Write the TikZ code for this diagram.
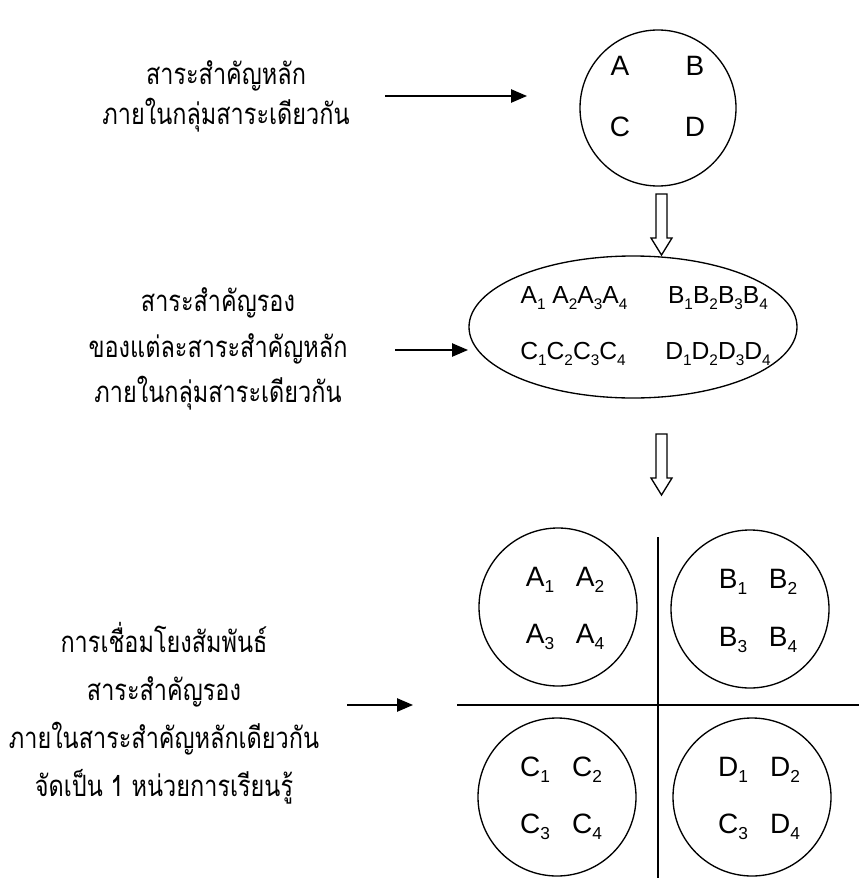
\documentclass[tikz,border=0pt]{standalone}
\usepackage{fontspec}
\setmainfont{Liberation Sans}
\newfontfamily\thaifont[Script=Thai,FakeStretch=0.8]{Loma}
\usetikzlibrary{arrows.meta,shapes.geometric}
\newcommand{\lowidx}[2][13]{\raisebox{-4.5pt}{\fontsize{#1}{#1}\selectfont #2}}
\tikzset{
	thaitext/.style={align=center,inner sep=0pt,font=\thaifont\fontsize{22}{34}\selectfont},
	letter/.style={inner sep=0pt,font=\fontsize{21}{21}\selectfont},
	ovalletter/.style={inner sep=0pt,font=\fontsize{18.5}{18.5}\selectfont},
	pointer/.style={line width=1.1pt,-{Triangle[length=12pt,width=10pt]}},
	ring/.style={circle,draw,line width=1pt,minimum size=118.5pt,inner sep=0pt},
	hollow/.style={draw,line width=1pt,fill=white,line join=miter}
}
\begin{document}
\begin{tikzpicture}[x=0.75pt,y=-0.75pt]
	\useasboundingbox (0,0) rectangle (859,878);
	% main themes
	\node[thaitext,font=\thaifont\fontsize{22}{30}\selectfont] (main) at (226,96) {สาระสำคัญหลัก\\ภายในกลุ่มสาระเดียวกัน};
	\node[ring,minimum size=117pt] (top) at (658,108) {};
	\node[letter] (tA) at (620,66) {A};
	\node[letter] (tB) at (695,66) {B};
	\node[letter] (tC) at (620,127) {C};
	\node[letter] (tD) at (695,127) {D};
	\coordinate (m1) at (385,96);
	\coordinate (m2) at (527,96);
	\draw[pointer] (m1) -- (m2);
	% sub themes
	\node[thaitext] (sub) at (218,349) {สาระสำคัญรอง\\ของแต่ละสาระสำคัญหลัก\\ภายในกลุ่มสาระเดียวกัน};
	\coordinate (oval) at (633,327);
	\draw[line width=1pt] (oval) ellipse [x radius=164, y radius=71];
	\node[ovalletter] (sA) at (574,298) {A\lowidx[11.5]{1} A\lowidx[11.5]{2}A\lowidx[11.5]{3}A\lowidx[11.5]{4}};
	\node[ovalletter] (sB) at (718,298) {B\lowidx[11.5]{1}B\lowidx[11.5]{2}B\lowidx[11.5]{3}B\lowidx[11.5]{4}};
	\node[ovalletter] (sC) at (573,354) {C\lowidx[11.5]{1}C\lowidx[11.5]{2}C\lowidx[11.5]{3}C\lowidx[11.5]{4}};
	\node[ovalletter] (sD) at (718,354) {D\lowidx[11.5]{1}D\lowidx[11.5]{2}D\lowidx[11.5]{3}D\lowidx[11.5]{4}};
	\coordinate (s1) at (395,350);
	\coordinate (s2) at (468,350);
	\draw[pointer] (s1) -- (s2);
	% hollow arrows
	\foreach \y in {194,434}
		\path[hollow] (656,\y) -- (667,\y) -- (667,\y+44) -- (672,\y+44)
			-- (661.5,\y+61) -- (651,\y+44) -- (656,\y+44) -- cycle;
	% units
	\node[thaitext,font=\thaifont\fontsize{22}{36}\selectfont] (unit) at (164,713)
		{การเชื่อมโยงสัมพันธ์\\สาระสำคัญรอง\\ภายในสาระสำคัญหลักเดียวกัน\\จัดเป็น 1 หน่วยการเรียนรู้};
	\coordinate (u1) at (347,705);
	\coordinate (u2) at (413,705);
	\draw[pointer] (u1) -- (u2);
	\coordinate (vtop) at (658,537);
	\coordinate (vbot) at (658,878);
	\coordinate (hleft) at (457,705);
	\coordinate (hright) at (859,705);
	\draw[line width=1.4pt] (vtop) -- (vbot);
	\draw[line width=1.4pt] (hleft) -- (hright);
	\node[ring] (cA) at (558,607) {};
	\node[ring] (cB) at (750,609) {};
	\node[ring] (cC) at (557,797) {};
	\node[ring] (cD) at (752,797) {};
	\node[letter] at (540,580) {A\lowidx{1}};
	\node[letter] at (590,580) {A\lowidx{2}};
	\node[letter] at (540,637) {A\lowidx{3}};
	\node[letter] at (590,637) {A\lowidx{4}};
	\node[letter] at (733,582) {B\lowidx{1}};
	\node[letter] at (783,582) {B\lowidx{2}};
	\node[letter] at (733,640) {B\lowidx{3}};
	\node[letter] at (783,640) {B\lowidx{4}};
	\node[letter] at (535,770) {C\lowidx{1}};
	\node[letter] at (587,770) {C\lowidx{2}};
	\node[letter] at (535,827) {C\lowidx{3}};
	\node[letter] at (587,827) {C\lowidx{4}};
	\node[letter] at (733,770) {D\lowidx{1}};
	\node[letter] at (785,770) {D\lowidx{2}};
	\node[letter] at (733,827) {C\lowidx{3}};
	\node[letter] at (785,827) {D\lowidx{4}};
\end{tikzpicture}
\end{document}
